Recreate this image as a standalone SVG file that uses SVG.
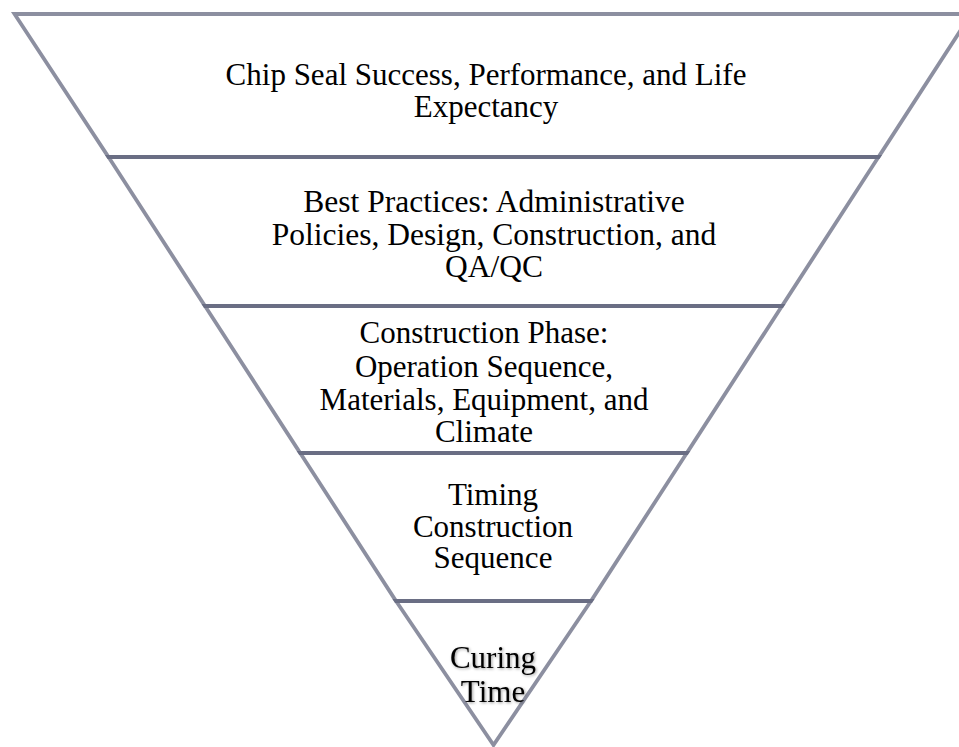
<svg xmlns="http://www.w3.org/2000/svg" width="959" height="747" viewBox="0 0 959 747">
  <defs>
    <style>
      .band { fill: none; stroke: rgb(91,95,119); stroke-opacity: 0.7; stroke-width: 3.8; stroke-linejoin: miter; }
      .label { font-family: "Liberation Serif", "Times New Roman", serif; font-size: 31px; fill: #000; text-anchor: middle; }
    </style>
    <filter id="softShadow" x="-20%" y="-20%" width="140%" height="140%">
      <feGaussianBlur in="SourceAlpha" stdDeviation="1.6"/>
      <feOffset dx="1" dy="1"/>
      <feComponentTransfer><feFuncA type="linear" slope="0.4"/></feComponentTransfer>
      <feMerge><feMergeNode/><feMergeNode in="SourceGraphic"/></feMerge>
    </filter>
  </defs>
  <rect width="959" height="747" fill="#fff"/>

  <g id="band-life-expectancy">
    <polygon class="band" points="14.5,14 971.1,14 878.5,157 108.5,157"/>
    <text class="label" x="486" y="85">Chip Seal Success, Performance, and Life</text>
    <text class="label" x="486" y="117">Expectancy</text>
  </g>

  <g id="band-best-practices">
    <polygon class="band" points="108.5,157 878.5,157 782,306 205,306"/>
    <text class="label" x="494" y="212" style="font-size:31.5px">Best Practices: Administrative</text>
    <text class="label" x="494" y="245" style="font-size:31.5px">Policies, Design, Construction, and</text>
    <text class="label" x="494" y="277" style="font-size:31.5px">QA/QC</text>
  </g>

  <g id="band-construction-phase">
    <polygon class="band" points="205,306 782,306 686.8,453 300.2,453"/>
    <text class="label" x="484" y="343">Construction Phase:</text>
    <text class="label" x="484" y="377">Operation Sequence,</text>
    <text class="label" x="484" y="410">Materials, Equipment, and</text>
    <text class="label" x="484" y="442">Climate</text>
  </g>

  <g id="band-timing">
    <polygon class="band" points="300.2,453 686.8,453 591,601 396,601"/>
    <text class="label" x="493" y="505">Timing</text>
    <text class="label" x="493" y="537">Construction</text>
    <text class="label" x="493" y="568">Sequence</text>
  </g>

  <g id="band-curing-time">
    <polygon class="band" points="396,601 591,601 493.5,745"/>
    <g filter="url(#softShadow)">
      <text class="label" x="493" y="668">Curing</text>
      <text class="label" x="493" y="702">Time</text>
    </g>
  </g>

  <g id="connectors"/>
</svg>
